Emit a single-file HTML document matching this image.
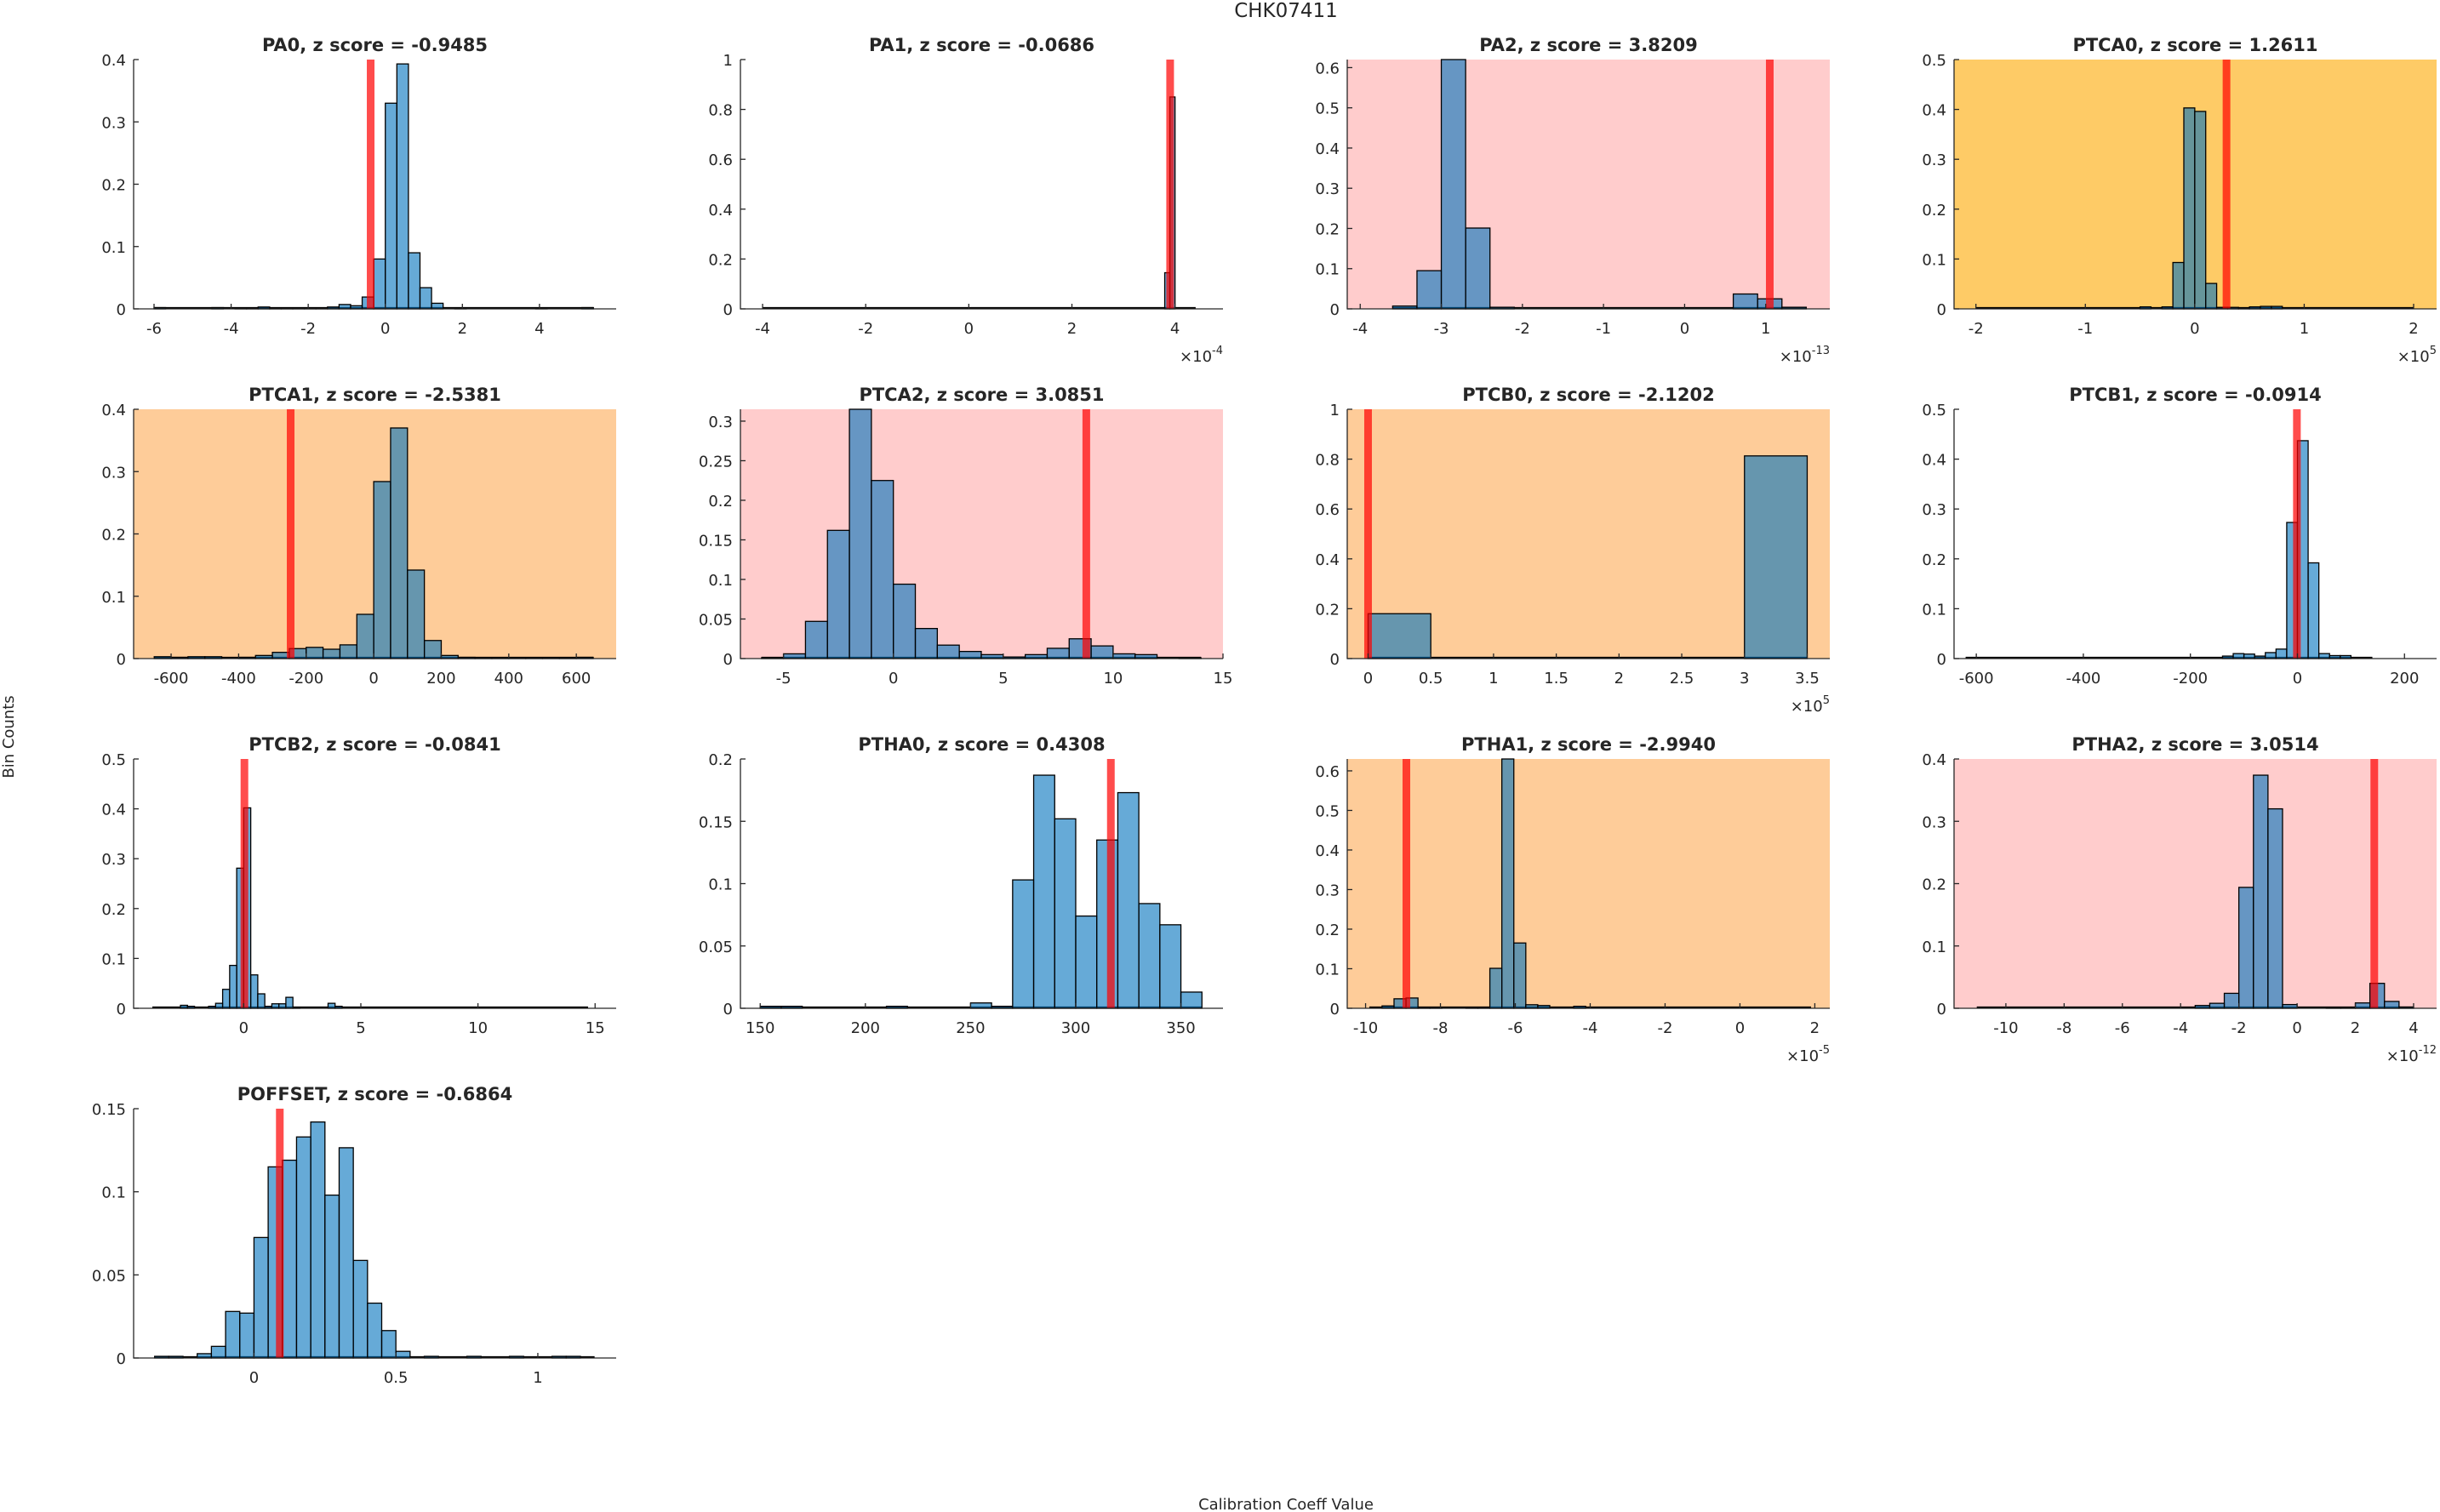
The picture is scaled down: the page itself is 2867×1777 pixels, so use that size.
<!DOCTYPE html>
<html><head><meta charset="utf-8"><style>
html,body{margin:0;padding:0;background:#fff;}
svg{display:block;}
text{font-family:"DejaVu Sans","Liberation Sans",sans-serif;fill:#262626;}
</style></head><body>
<svg id="fig" width="2867" height="1777" viewBox="0 0 2867 1777" xmlns="http://www.w3.org/2000/svg">
<rect x="0" y="0" width="2867" height="1777" fill="#fff"/>
<text x="1511" y="20" font-size="23" text-anchor="middle">CHK07411</text>
<text x="0" y="0" font-size="18" text-anchor="middle" transform="translate(16,866) rotate(-90)">Bin Counts</text>
<text x="1511" y="1774" font-size="18" text-anchor="middle">Calibration Coeff Value</text>
<g id="panels"></g>
</svg>
<script>
// ---- data arrays ----
const pa0Values = [0.002,0,0,0,0,0.002,0,0.001,0.001,0.003,0.001,0.001,0.001,0.001,0.001,0.003,0.007,0.005,0.019,0.08,0.33,0.393,0.09,0.034,0.009,0,0.001,0,0,0,0,0,0,0.001,0,0,0,0.002];
const pa1Values = [0.145,0.85];
const pa2Values = [0.007,0.095,0.62,0.201,0.004,0,0,0,0,0,0,0,0,0,0.037,0.025,0.004];
const ptca0Values = [0.004,0,0.004,0.093,0.403,0.396,0.051,0.003,0.003,0.002,0.004,0.005,0.005];
const ptca1Values = [0.003,0.002,0.003,0.003,0,0.002,0.005,0.01,0.016,0.018,0.015,0.022,0.071,0.284,0.37,0.142,0.029,0.005,0.002,0.001,0.001,0.001,0.001,0.001,0.001,0.002];
const ptca2Values = [0.001,0.006,0.047,0.162,0.315,0.225,0.094,0.038,0.017,0.009,0.005,0.002,0.005,0.013,0.025,0.016,0.006,0.005,0,0.001];
const ptcb0Values = [0.18,0,0,0,0,0,0.813];
const ptcb1Values = [0.005,0.01,0.009,0.005,0.012,0.019,0.273,0.437,0.192,0.01,0.006,0.006];
const ptcb2Values = [0.006,0.004,0,0,0.004,0.01,0.038,0.086,0.281,0.402,0.067,0.029,0.004,0.009,0.009,0.022,0.002,0,0,0,0,0.01,0.004];
const ptha0Values = [0.0016,0.0016,0,0,0,0,0.0016,0,0,0,0.0043,0.0016,0.103,0.187,0.152,0.074,0.135,0.173,0.084,0.067,0.013];
const ptha1Values = [0.006,0.024,0.026,0.002,0.001,0,0,0.002,0.002,0.101,0.63,0.165,0.009,0.007,0,0,0.005];
const ptha2Values = [0.0045,0.008,0.024,0.194,0.374,0.32,0.006,0,0,0.001,0.001,0.0086,0.04,0.011,0.002];
const poffsetValues = [0.001,0.001,0,0.0026,0.007,0.028,0.027,0.0725,0.115,0.119,0.133,0.142,0.098,0.1265,0.0587,0.033,0.0165,0.004,0,0.001,0,0,0.001,0,0,0.001,0,0,0.001,0.001];
const redLines = [-0.38, 3.905, 1.05, 0.29, -246, 8.78, 0.0, -1, 0.03, 316.7, -8.91, 2.65, 0.091];
const panelNames = ["PA0","PA1","PA2","PTCA0","PTCA1","PTCA2","PTCB0","PTCB1","PTCB2","PTHA0","PTHA1","PTHA2","POFFSET"];
const zScores = ["-0.9485","-0.0686","3.8209","1.2611","-2.5381","3.0851","-2.1202","-0.0914","-0.0841","0.4308","-2.9940","3.0514","-0.6864"];
const binStarts = [-6.0, 3.8, -3.6, -0.5, -650, -6, 0, -140, -2.7, 150, -9.56, -3.5, -0.35];
const binWidths = [0.3, 0.1, 0.3, 0.1, 50, 1, 0.5, 20, 0.3, 10, 0.32, 0.5, 0.05];
const zeroSpans = [[-6,5.4],[-4,4.4],[-3.6,1.5],[-2,2],[-650,650],[-6,14],[0,3.5],[-620,140],[-3.9,14.7],[150,360],[-9.9,1.9],[-11,4],[-0.35,1.2]];
const xLims = [[-6.53,5.99],[-4.43,4.93],[-4.16,1.79],[-2.2,2.21],[-711,718],[-6.96,15],[-0.166,3.68],[-641.6,260],[-4.7,15.9],[140.6,370],[-10.49,2.4],[-11.78,4.79],[-0.424,1.276]];
const yMaxes = [0.4,1,0.62,0.5,0.4,0.315,1,0.5,0.5,0.2,0.63,0.4,0.15];
const xTicks = [[-6,-4,-2,0,2,4],[-4,-2,0,2,4],[-4,-3,-2,-1,0,1],[-2,-1,0,1,2],[-600,-400,-200,0,200,400,600],[-5,0,5,10,15],[0,0.5,1,1.5,2,2.5,3,3.5],[-600,-400,-200,0,200],[0,5,10,15],[150,200,250,300,350],[-10,-8,-6,-4,-2,0,2],[-10,-8,-6,-4,-2,0,2,4],[0,0.5,1]];
const yTicks = [[0,0.1,0.2,0.3,0.4],[0,0.2,0.4,0.6,0.8,1],[0,0.1,0.2,0.3,0.4,0.5,0.6],[0,0.1,0.2,0.3,0.4,0.5],[0,0.1,0.2,0.3,0.4],[0,0.05,0.1,0.15,0.2,0.25,0.3],[0,0.2,0.4,0.6,0.8,1],[0,0.1,0.2,0.3,0.4,0.5],[0,0.1,0.2,0.3,0.4,0.5],[0,0.05,0.1,0.15,0.2],[0,0.1,0.2,0.3,0.4,0.5,0.6],[0,0.1,0.2,0.3,0.4],[0,0.05,0.1,0.15]];
const exponents = ["","-4","-13","5","","","5","","","","-5","-12",""];
const backgrounds = ["#ffffff","#ffffff","#ffcccc","#fecb66","#fecc99","#ffcccc","#fecc99","#ffffff","#ffffff","#ffffff","#fecc99","#ffcccc","#ffffff"];
const allValues = [pa0Values,pa1Values,pa2Values,ptca0Values,ptca1Values,ptca2Values,ptcb0Values,ptcb1Values,ptcb2Values,ptha0Values,ptha1Values,ptha2Values,poffsetValues];

// ---- layout ----
const NS = "http://www.w3.org/2000/svg";
const colX = [157, 870, 1583, 2296];
const rowY = [70, 481, 892, 1303];
const AW = 567, AH = 293;
const root = document.getElementById("panels");
function mk(tag, attrs, parent) {
  const el = document.createElementNS(NS, tag);
  for (const k in attrs) el.setAttribute(k, attrs[k]);
  parent.appendChild(el);
  return el;
}
function fmt(v){ return String(+v.toFixed(2)); }

panelNames.forEach((nm, p) => {
  const L = colX[p % 4], T = rowY[Math.floor(p / 4)], B = T + AH, R = L + AW;
  const [x0, x1] = xLims[p];
  const ym = yMaxes[p];
  const sx = v => L + (v - x0) / (x1 - x0) * AW;
  const sy = v => B - v / ym * AH;
  const slug = nm.toLowerCase();
  const g = mk("g", {}, root);
  
  

  const bg = mk("rect", {x:L, y:T, width:AW, height:AH, fill:backgrounds[p]}, g);
  
  

  const t = mk("text", {x:(L+R)/2, y:T-10, "font-size":21, "font-weight":"bold", "text-anchor":"middle", fill:"#000"}, g);
  t.textContent = nm + ", z score = " + zScores[p];
  
  

  const zs = zeroSpans[p];
  const zl = mk("line", {x1:sx(zs[0]), x2:sx(zs[1]), y1:B-1, y2:B-1, stroke:"#000", "stroke-width":2.2}, g);
  
  

  const vals = allValues[p];
  vals.forEach((v, i) => {
    if (v <= 0) return;
    const a = binStarts[p] + i * binWidths[p];
    const xa = sx(a), xb = sx(a + binWidths[p]);
    const r = mk("rect", {x:xa, y:sy(v), width:xb-xa, height:B-sy(v), fill:"rgba(0,114,189,0.6)", stroke:"#000", "stroke-width":1.3}, g);
    
    
  });

  const rl = mk("rect", {x:sx(redLines[p])-4.5, y:T, width:9, height:AH, fill:"rgba(255,0,0,0.7)"}, g);
  
  

  const ax = mk("path", {d:`M${L},${T} L${L},${B} L${R},${B}`, fill:"none", stroke:"#262626", "stroke-width":1.3}, g);
  
  

  xTicks[p].forEach(v => {
    const x = sx(v);
    mk("line", {x1:x, x2:x, y1:B, y2:B-6, stroke:"#262626", "stroke-width":1.3}, g);
    const tl = mk("text", {x:x, y:B+29, "font-size":18, "text-anchor":"middle"}, g);
    tl.textContent = fmt(v);
    
    
  });
  yTicks[p].forEach(v => {
    const y = sy(v);
    mk("line", {x1:L, x2:L+6, y1:y, y2:y, stroke:"#262626", "stroke-width":1.3}, g);
    const tl = mk("text", {x:L-9, y:y+7, "font-size":18, "text-anchor":"end"}, g);
    tl.textContent = fmt(v);
    
    
  });
  if (exponents[p]) {
    const ex = mk("text", {x:R, y:B+62, "font-size":18, "text-anchor":"end"}, g);
    ex.innerHTML = '\u00d710<tspan font-size="13" dy="-9">' + exponents[p] + '</tspan>';
    
    
  }
});
</script>
</body></html>
